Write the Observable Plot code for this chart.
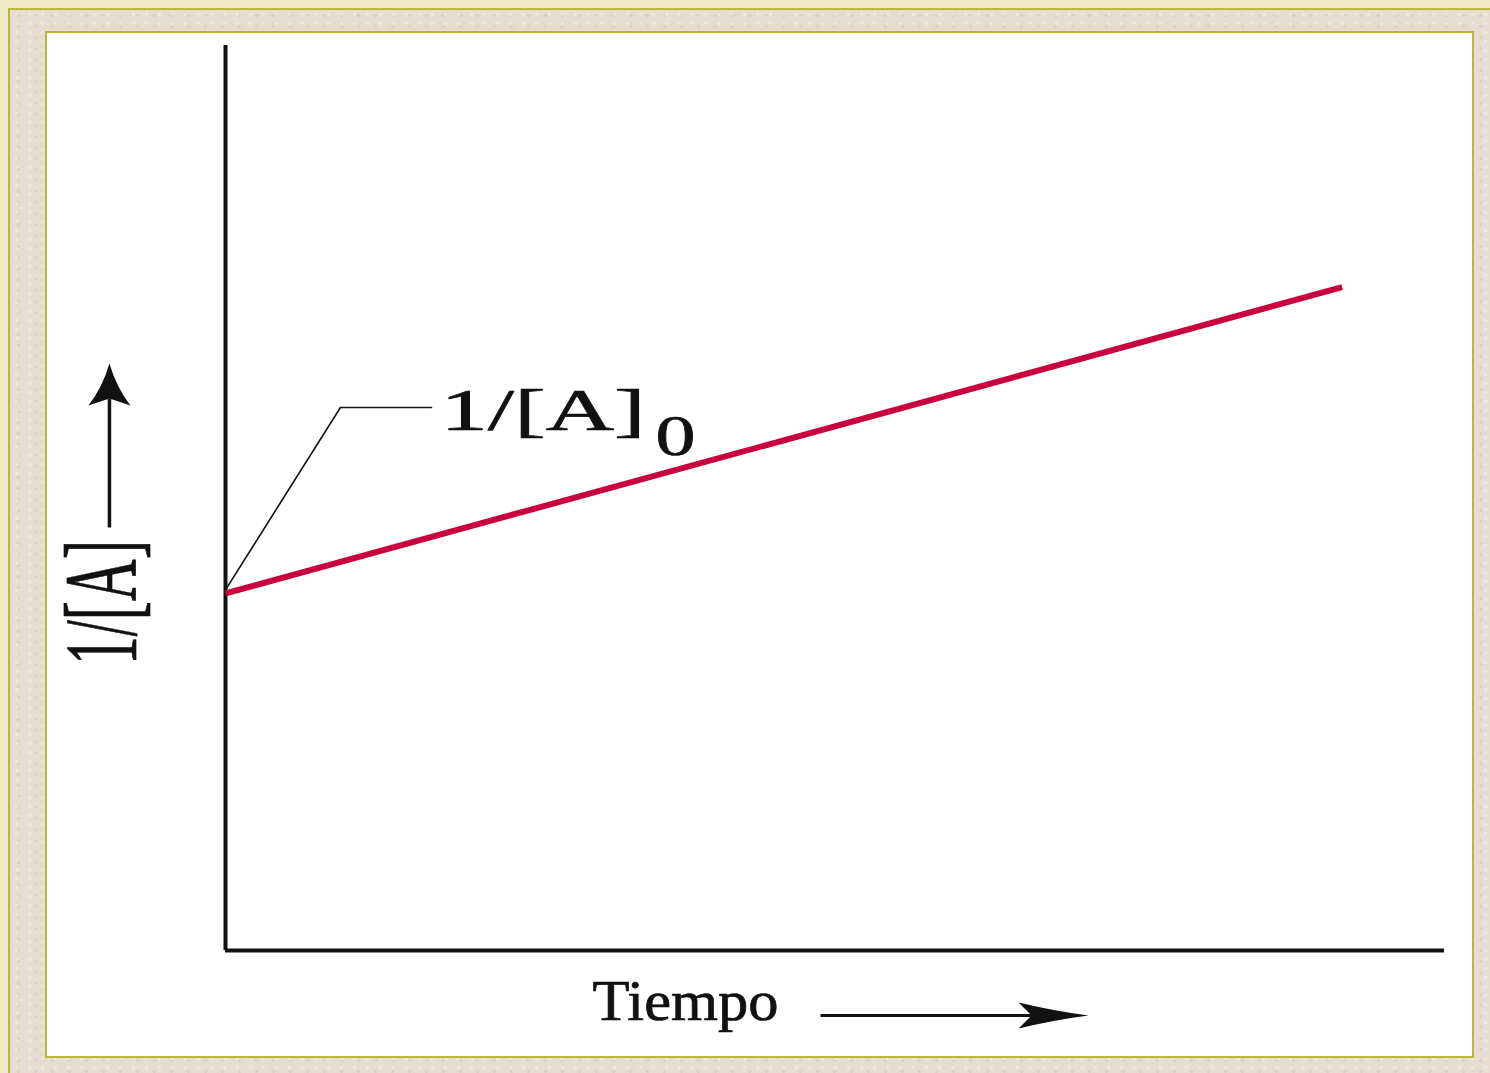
<!DOCTYPE html>
<html>
<head>
<meta charset="utf-8">
<script src="https://cdn.jsdelivr.net/npm/d3@7"></script>
<script src="https://cdn.jsdelivr.net/npm/@observablehq/plot@0.6"></script>
<style>
  html, body { margin: 0; padding: 0; overflow: hidden; background: #eeeac6; }
  #wrap { position: relative; width: 1490px; height: 1073px; }
  #tex { position: absolute; left: 8px; top: 8px; right: 0; bottom: 0;
         background-color: #e5ddd0;
         background-image: radial-gradient(rgba(255,255,255,0.30) 1.5px, transparent 2.5px),
                           radial-gradient(rgba(170,160,140,0.18) 1.5px, transparent 2.5px);
         background-size: 13px 9px, 17px 11px;
         border-left: 2px solid #bcb63c; border-top: 2px solid #bcb63c; }
  #panel { position: absolute; left: 45px; top: 31px; width: 1425px; height: 1023px;
           background: #ffffff; border: 2px solid #bcb63c; }
  #chart { position: absolute; left: 0; top: 0; }
</style>
</head>
<body>
<div id="wrap">
  <div id="tex"></div>
  <div id="panel"></div>
  <div id="chart"></div>
</div>
<script>
// Series: 1/[A] versus time (second-order kinetics, straight line)
const tiempo = [0, 9.16];
const invA = [3.945, 7.33];

// Text labels
const yLabel = "1/[A]";
const xLabel = "Tiempo";
const annotMain = "1/[A]";
const annotSub = "0";

const lineData = tiempo.map((t, i) => ({t, v: invA[i]}));

// Arrowhead symbols
const headRight = {
  draw(ctx) {
    ctx.moveTo(0, 0);
    ctx.quadraticCurveTo(-32, -4, -70, -13);
    ctx.lineTo(-57, 0);
    ctx.lineTo(-70, 13);
    ctx.quadraticCurveTo(-32, 4, 0, 0);
    ctx.closePath();
  }
};
const headUp = {
  draw(ctx) {
    ctx.moveTo(0, 0);
    ctx.quadraticCurveTo(-7, 24, -21, 42);
    ctx.lineTo(0, 35);
    ctx.lineTo(21, 42);
    ctx.quadraticCurveTo(7, 24, 0, 0);
    ctx.closePath();
  }
};

const one = [{}];
const textStyle = {fontFamily: "Liberation Serif", fill: "#111", stroke: "#111", strokeWidth: 0.7};

const chart = Plot.plot({
  width: 1490,
  height: 1073,
  marginLeft: 225,
  marginRight: 46,
  marginTop: 45,
  marginBottom: 123,
  style: {background: "transparent", overflow: "visible"},
  x: {domain: [0, 10], axis: null},
  y: {domain: [0, 10], axis: null},
  marks: [
    // axes
    Plot.ruleX([0], {stroke: "#111", strokeWidth: 4}),
    Plot.ruleY([0], {stroke: "#111", strokeWidth: 4}),
    // leader line for annotation
    Plot.line([[tiempo[0], invA[0] + 0.04], [0.943, 6.0], [1.69, 6.0]], {
      stroke: "#111", strokeWidth: 1.6
    }),
    // data line
    Plot.line(lineData, {x: "t", y: "v", stroke: "#c9023d", strokeWidth: 6, strokeLinecap: "butt"}),
    // annotation text
    Plot.text(one, {x: 1.764, y: 5.746, text: () => annotMain, textAnchor: "start", fontSize: 60, ...textStyle}),
    Plot.text(one, {x: 3.527, y: 5.47, text: () => annotSub, textAnchor: "start", fontSize: 56, ...textStyle}),
    // y label with arrow
    Plot.text(one, {x: -0.738, y: 3.845, text: () => yLabel, rotate: -90, textAnchor: "middle", fontSize: 104, ...textStyle}),
    Plot.link(one, {x1: -0.952, x2: -0.952, y1: 4.674, y2: 6.10, stroke: "#111", strokeWidth: 3.5}),
    Plot.dot(one, {x: -0.952, y: 6.486, symbol: headUp, fill: "#111", stroke: "none", r: 20}),
    // x label with arrow
    Plot.text(one, {x: 3.011, y: -0.773, text: () => xLabel, textAnchor: "start", fontSize: 56, ...textStyle}),
    Plot.link(one, {x1: 4.881, x2: 6.75, y1: -0.718, y2: -0.718, stroke: "#111", strokeWidth: 3}),
    Plot.dot(one, {x: 7.08, y: -0.718, symbol: headRight, fill: "#111", stroke: "none", r: 20})
  ]
});

document.getElementById("chart").appendChild(chart);

// Put baseline at the anchor point and stretch texts to the reference proportions
d3.select(chart).selectAll("text").each(function () {
  const el = d3.select(this);
  const content = this.textContent;
  const rotated = (el.attr("transform") || "").includes("rotate");
  let len = null;
  if (content === yLabel && rotated) len = 125;
  else if (content === annotMain) len = 205;
  else if (content === annotSub) len = 40;
  else if (content === xLabel) len = 186;
  if (len == null) return;
  el.attr("y", 0).attr("dy", null)
    .attr("textLength", len)
    .attr("lengthAdjust", "spacingAndGlyphs")
    .style("paint-order", "normal");
  el.selectAll("tspan").attr("y", null).attr("dy", null);
});
</script>
</body>
</html>
